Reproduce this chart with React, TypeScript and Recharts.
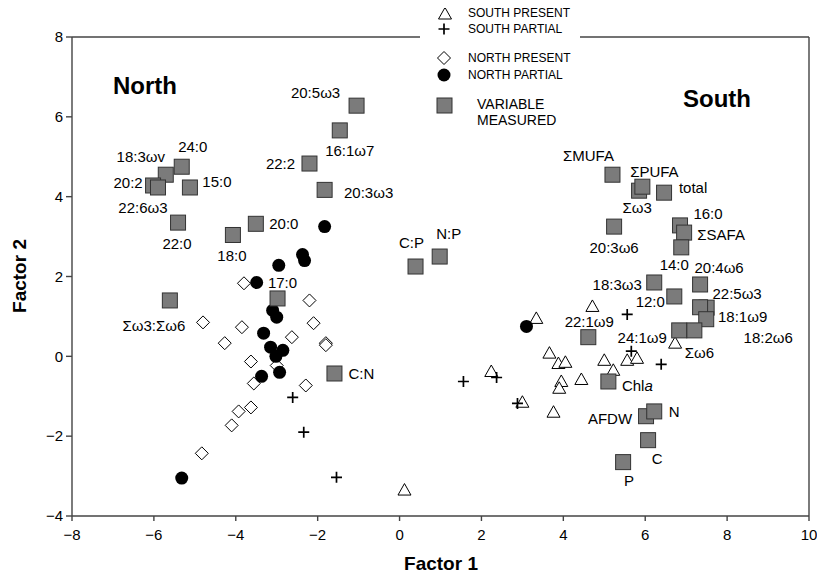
import { Legend, Scatter, ScatterChart, XAxis, YAxis } from 'recharts';

// x = Factor 1, y = Factor 2
const southPresent = [
  [3.34, 0.95], [4.71, 1.25], [3.66, 0.08], [3.88, -0.18], [4.05, -0.15], [5.0, -0.1],
  [5.56, -0.1], [5.8, -0.05], [5.22, -0.35], [6.73, 0.33], [2.24, -0.38], [3.95, -0.63],
  [3.9, -0.8], [4.44, -0.58], [3.0, -1.15], [3.76, -1.4], [0.12, -3.35],
];
const southPartial = [
  [-2.61, -1.03], [-2.34, -1.9], [-1.54, -3.03], [1.56, -0.63], [2.37, -0.53],
  [2.88, -1.18], [5.56, 1.05], [5.66, 0.13], [6.39, -0.2],
];
const northPresent = [
  [-3.8, 1.83], [-2.2, 1.4], [-4.8, 0.85], [-3.85, 0.73], [-2.1, 0.83], [-4.27, 0.33],
  [-2.63, 0.48], [-1.8, 0.33], [-1.8, 0.28], [-3.63, -0.13], [-3.0, -0.23], [-3.56, -0.68],
  [-2.29, -0.73], [-3.63, -1.28], [-3.93, -1.38], [-4.1, -1.73], [-4.83, -2.43],
];
const northPartial = [
  [-1.83, 3.25], [-2.37, 2.55], [-2.32, 2.4], [-2.95, 2.28], [-3.49, 1.85], [-3.1, 1.15],
  [-3.0, 0.98], [-3.32, 0.58], [-3.15, 0.23], [-2.85, 0.15], [-3.02, 0.0], [-2.93, -0.4],
  [-3.37, -0.5], [-5.32, -3.05], [3.1, 0.75],
];
const variableNames = [
  '20:5ω3', '16:1ω7', '22:2', '20:3ω3', '18:3ωv', '24:0', '20:2', '22:6ω3', '15:0', '22:0',
  '20:0', '18:0', '17:0', 'Σω3:Σω6', 'C:N', 'C:P', 'N:P', 'ΣMUFA', 'Σω3', 'ΣPUFA', 'total',
  '20:3ω6', '16:0', 'ΣSAFA', '14:0', '18:3ω3', '12:0', '20:4ω6', '18:1ω9', '22:5ω3',
  '18:2ω6', '24:1ω9', 'Σω6', '22:1ω9', 'Chla', 'AFDW', 'N', 'C', 'P',
];
const variableF1 = [
  -1.05, -1.46, -2.2, -1.83, -5.71, -5.32, -6.02, -5.9, -5.12, -5.41,
  -3.51, -4.07, -2.98, -5.61, -1.59, 0.39, 0.98, 5.2, 5.85, 5.93, 6.46,
  5.24, 6.85, 6.95, 6.88, 6.22, 6.71, 7.34, 7.5, 7.34,
  7.49, 6.83, 7.2, 4.61, 5.1, 6.02, 6.22, 6.07, 5.46,
];
const variableF2 = [
  6.28, 5.66, 4.83, 4.17, 4.55, 4.75, 4.28, 4.23, 4.23, 3.35,
  3.32, 3.04, 1.45, 1.4, -0.43, 2.25, 2.5, 4.55, 4.15, 4.25, 4.1,
  3.25, 3.28, 3.1, 2.73, 1.85, 1.5, 1.8, 1.22, 1.23,
  0.93, 0.65, 0.65, 0.48, -0.63, -1.5, -1.38, -2.1, -2.65,
];
const xTicks = [-8, -6, -4, -2, 0, 2, 4, 6, 8, 10];
const yTicks = [-4, -2, 0, 2, 4, 6, 8];

// where each variable's label sits, relative to its square (px)
const labelOffset: Record<string, [number, number]> = {
  '20:5ω3': [-41, -13], '16:1ω7': [10, 20], '22:2': [-29, 0], '20:3ω3': [44, 3],
  '18:3ωv': [-25, -18], '24:0': [11, -20], '20:2': [-25, -3], '22:6ω3': [-15, 20],
  '15:0': [27, -6], '22:0': [-1, 21], '20:0': [28, 0], '18:0': [-1, 21], '17:0': [5, -16],
  'Σω3:Σω6': [-16, 25], 'C:N': [27, 0], 'C:P': [-4, -24], 'N:P': [9, -23],
  'ΣMUFA': [-24, -19], 'ΣPUFA': [12, -15], 'Σω3': [-2, 17], total: [29, -5],
  '20:3ω6': [0, 21], '16:0': [28, -12], 'ΣSAFA': [37, 2], '14:0': [-7, 17],
  '18:3ω3': [-37, 2], '12:0': [-24, 5], '20:4ω6': [19, -17], '22:5ω3': [37, -14],
  '18:1ω9': [36, 9], '18:2ω6': [62, 18], '24:1ω9': [-37, 7], 'Σω6': [5, 22],
  '22:1ω9': [1, -16], Chla: [29, 4], N: [20, 0], AFDW: [-36, 2], C: [9, 18], P: [6, 18],
};

const FONT = '"Liberation Sans", Arial, Helvetica, sans-serif';
const SQUARE_FILL = '#7b7b7b';
const FRAME = '#444';

const toPoints = (arr: number[][]) => arr.map(([x, y]) => ({ x, y }));
const variables = variableNames.map((name, i) => ({ name, x: variableF1[i], y: variableF2[i] }));

const fmt = (v: number) => String(v).replace('-', '\u2212');

const Triangle = ({ cx, cy }: any) => (
  <polygon
    points={`${cx},${cy - 6.5} ${cx - 6.5},${cy + 5} ${cx + 6.5},${cy + 5}`}
    fill="#fff"
    stroke="#000"
    strokeWidth={1}
  />
);
const Plus = ({ cx, cy }: any) => (
  <path d={`M${cx - 5.5},${cy}H${cx + 5.5}M${cx},${cy - 5.5}V${cy + 5.5}`} stroke="#000" strokeWidth={1.7} />
);
const Diamond = ({ cx, cy }: any) => (
  <polygon
    points={`${cx},${cy - 6.5} ${cx + 6.5},${cy} ${cx},${cy + 6.5} ${cx - 6.5},${cy}`}
    fill="#fff"
    stroke="#000"
    strokeWidth={1}
  />
);
const Dot = ({ cx, cy }: any) => <circle cx={cx} cy={cy} r={6.5} fill="#000" />;

const VariableSquare = ({ cx, cy, payload }: any) => {
  const [dx, dy] = labelOffset[payload.name] ?? [20, 0];
  return (
    <g>
      <rect x={cx - 7.5} y={cy - 7.5} width={15} height={15} fill={SQUARE_FILL} stroke="#333" strokeWidth={1} />
      <text
        x={cx + dx}
        y={cy + dy}
        textAnchor="middle"
        dominantBaseline="central"
        fontSize={15}
        fontFamily={FONT}
        fill="#000"
      >
        {payload.name === 'Chla' ? (
          <>
            Chl<tspan fontStyle="italic">a</tspan>
          </>
        ) : (
          payload.name
        )}
      </text>
    </g>
  );
};

function LegendBox() {
  const txt = { position: 'absolute' as const, fontFamily: FONT, color: '#000', lineHeight: '14px' };
  return (
    <div style={{ position: 'relative', width: 160, height: 132, background: '#fff' }}>
      <svg width={45} height={132} style={{ position: 'absolute', left: 0, top: 0 }}>
        <Triangle cx={25} cy={14} />
        <Plus cx={24} cy={29} />
        <Diamond cx={24} cy={58} />
        <Dot cx={24} cy={75} />
        <rect x={17} y={98} width={15} height={15} fill={SQUARE_FILL} stroke="#333" />
      </svg>
      <div style={{ ...txt, left: 48, top: 6, fontSize: 12 }}>SOUTH PRESENT</div>
      <div style={{ ...txt, left: 48, top: 22, fontSize: 12 }}>SOUTH PARTIAL</div>
      <div style={{ ...txt, left: 48, top: 51, fontSize: 12 }}>NORTH PRESENT</div>
      <div style={{ ...txt, left: 48, top: 68, fontSize: 12 }}>NORTH PARTIAL</div>
      <div style={{ ...txt, left: 57, top: 96, fontSize: 14, lineHeight: '16px' }}>
        VARIABLE
        <br />
        MEASURED
      </div>
    </div>
  );
}

export default function App() {
  return (
    <ScatterChart width={817} height={567} margin={{ top: 28, right: 15, bottom: 29, left: 24 }}>
      <XAxis
        type="number"
        dataKey="x"
        domain={[-8, 10]}
        ticks={xTicks}
        tickFormatter={fmt}
        stroke={FRAME}
        strokeWidth={1.4}
        tickSize={5}
        tickMargin={8}
        tick={{ fill: '#000', fontSize: 15, fontFamily: FONT }}
        height={30}
        allowDataOverflow
      />
      <XAxis
        xAxisId="top"
        orientation="top"
        type="number"
        domain={[-8, 10]}
        stroke={FRAME}
        strokeWidth={1.4}
        tick={false}
        tickLine={false}
        height={1}
      />
      <YAxis
        type="number"
        dataKey="y"
        domain={[-4, 8]}
        ticks={yTicks}
        tickFormatter={fmt}
        stroke={FRAME}
        strokeWidth={1.4}
        tickSize={6}
        tickMargin={3}
        tick={{ fill: '#000', fontSize: 15, fontFamily: FONT }}
        width={40}
        allowDataOverflow
      />
      <YAxis
        yAxisId="right"
        orientation="right"
        type="number"
        domain={[-4, 8]}
        stroke={FRAME}
        strokeWidth={1.4}
        tick={false}
        tickLine={false}
        width={1}
      />
      <Scatter name="NORTH PRESENT" data={toPoints(northPresent)} shape={Diamond} isAnimationActive={false} />
      <Scatter name="SOUTH PRESENT" data={toPoints(southPresent)} shape={Triangle} isAnimationActive={false} />
      <Scatter name="SOUTH PARTIAL" data={toPoints(southPartial)} shape={Plus} isAnimationActive={false} />
      <Scatter name="NORTH PARTIAL" data={toPoints(northPartial)} shape={Dot} isAnimationActive={false} />
      <Scatter name="VARIABLE MEASURED" data={variables} shape={VariableSquare} isAnimationActive={false} />
      <Legend
        layout="vertical"
        align="center"
        verticalAlign="middle"
        content={() => <LegendBox />}
        wrapperStyle={{ left: 412, top: -8, width: 160, height: 132 }}
      />
      <text x={105} y={77} fontSize={24} fontWeight="bold" fontFamily={FONT} dominantBaseline="central">
        North
      </text>
      <text x={675} y={90} fontSize={24} fontWeight="bold" fontFamily={FONT} dominantBaseline="central">
        South
      </text>
      <text x={433} y={555} fontSize={19} fontWeight="bold" fontFamily={FONT} textAnchor="middle" dominantBaseline="central">
        Factor 1
      </text>
      <text
        x={11}
        y={268}
        fontSize={19}
        fontWeight="bold"
        fontFamily={FONT}
        textAnchor="middle"
        dominantBaseline="central"
        transform="rotate(-90 11 268)"
      >
        Factor 2
      </text>
    </ScatterChart>
  );
}
